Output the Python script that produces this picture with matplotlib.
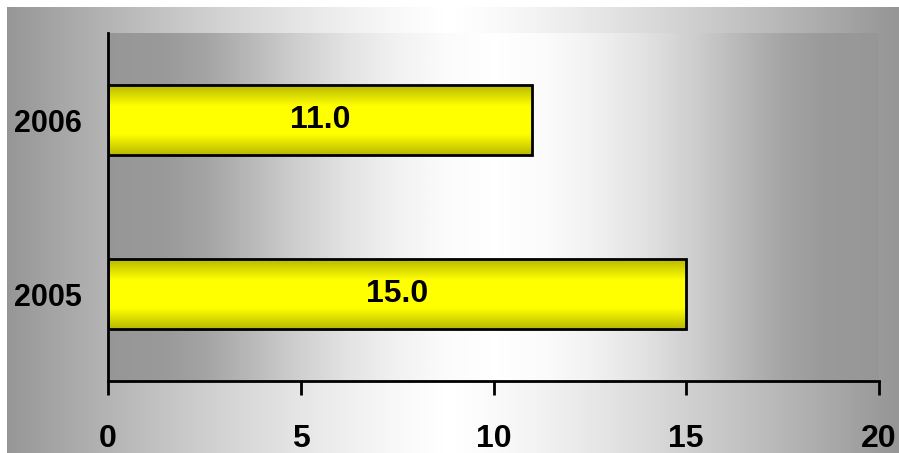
import numpy as np
import matplotlib
matplotlib.use("Agg")
import matplotlib.pyplot as plt
from matplotlib.colors import LinearSegmentedColormap

years = ["2005", "2006"]
values = [15.0, 11.0]
xticks = [0, 5, 10, 15, 20]

plt.rcParams['font.family'] = ['Liberation Sans', 'DejaVu Sans']
plt.rcParams['font.weight'] = 'bold'

W, H = 899, 453
fig = plt.figure(figsize=(W/100, H/100), dpi=100)
fig.patch.set_facecolor('white')

gray = LinearSegmentedColormap.from_list('g', ['#969696', '#ffffff'])
yel = LinearSegmentedColormap.from_list('y', ['#b8b800', '#ffff00'])

# outer background gradient (gray -> white -> gray), peak near x=450
bg = fig.add_axes([7/W, 0, (W-7)/W, (H-7)/H])
bg.set_axis_off()
px = np.arange(7, W) + 0.5
g = 1 - np.clip(np.abs(px - 450) / 445, 0, 1) ** 1.3
bg.imshow(g[None, :], cmap=gray, aspect='auto', extent=(0, 1, 0, 1), vmin=0, vmax=1)
bg.set_xlim(0, 1)
bg.set_ylim(0, 1)

ax = fig.add_axes([108/W, (H-381)/H, 771/W, 348/H])

# plot area gradient, peak near x=495, soft falloff to gray
pi_ = np.arange(108, 879) + 0.5
d = np.abs(pi_ - 495)
shade = np.interp(d, [0, 50, 100, 150, 200, 250, 290, 330, 400],
                  [255, 251, 241, 226, 206, 182, 164, 154, 150])
gi = (shade - 150) / 105
ax.imshow(gi[None, :], cmap=gray, aspect='auto', extent=(0, 20, -0.5, 1.5),
          vmin=0, vmax=1, zorder=0)

bh = 0.4
sb = np.linspace(-1, 1, 200)
gb = np.clip((1 - np.abs(sb)) / 0.6, 0, 1)
for i, v in enumerate(values):
    ax.imshow(gb[:, None], cmap=yel, aspect='auto', vmin=0, vmax=1,
              extent=(0, v, i - bh/2, i + bh/2), zorder=2)
    ax.barh(i, v, height=bh, facecolor='none', edgecolor='black', linewidth=2, zorder=3)
    ax.text(v/2, i, "%.1f" % v, ha='center', va='center', fontsize=23,
            fontweight='bold', zorder=4)

ax.set_xlim(0, 20)
ax.set_ylim(-0.5, 1.5)
ax.set_yticks(range(len(years)))
ax.set_yticklabels(years)
ax.set_xticks(xticks)
ax.tick_params(axis='y', length=0, pad=19, labelsize=22)
ax.tick_params(axis='x', length=10, width=2, direction='out', pad=21, labelsize=23)
for sp in ['top', 'right']:
    ax.spines[sp].set_visible(False)
for sp in ['left', 'bottom']:
    ax.spines[sp].set_linewidth(2)
for lab in ax.get_xticklabels() + ax.get_yticklabels():
    lab.set_fontweight('bold')

fig.savefig("out.png", dpi=100)
